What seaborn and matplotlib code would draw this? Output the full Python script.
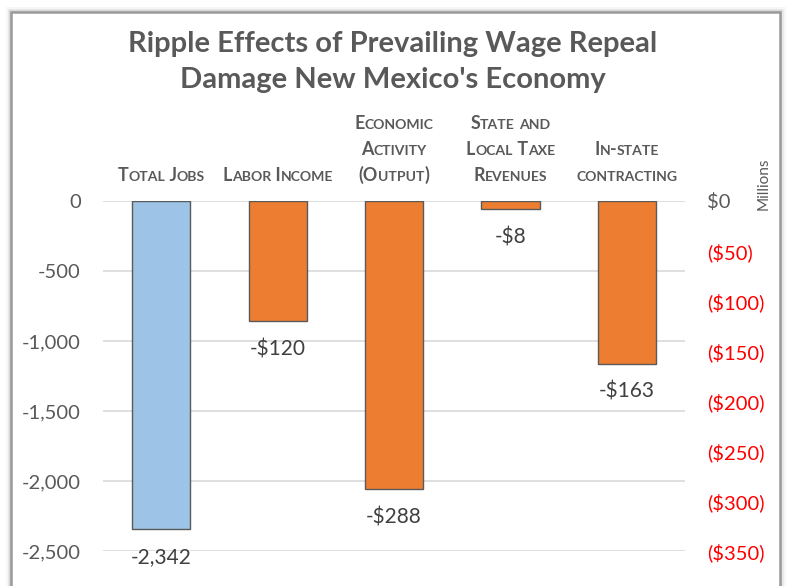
import numpy as np
import pandas as pd
import matplotlib
matplotlib.use("Agg")
import matplotlib.pyplot as plt
import seaborn as sns
from matplotlib.patches import Rectangle

# ---- data ----
categories = ["Total Jobs", "Labor Income", "Economic Activity (Output)",
              "State and Local Taxe Revenues", "In-state contracting"]
header_lines = [["Total Jobs"], ["Labor Income"],
                ["Economic", "Activity", "(Output)"],
                ["State and", "Local Taxe", "Revenues"],
                ["In-state", "contracting"]]
jobs_category = ["Total Jobs"]
jobs_values = [-2342]
dollar_categories = ["Labor Income", "Economic Activity (Output)",
                     "State and Local Taxe Revenues", "In-state contracting"]
dollar_values = [-120, -288, -8, -163]
jobs_ticks = [0, -500, -1000, -1500, -2000, -2500]
dollar_ticks = [0, -50, -100, -150, -200, -250, -300, -350]

title_lines = ["Ripple Effects of Prevailing Wage Repeal",
               "Damage New Mexico's Economy"]

sns.set_theme(style="white")
plt.rcParams["font.family"] = ["Lato", "DejaVu Sans"]

W, H = 788, 586
fig = plt.figure(figsize=(W / 100, H / 100), dpi=100)
fig.patch.set_facecolor("white")

GRAY = "#595959"
DARK = "#404040"

# ---- card frame with soft shadow ----
for off, a in [(8, 0.03), (5, 0.05), (3, 0.08)]:
    fig.patches.append(Rectangle((11 / W, -30 / H), 769 / W, 604 / H,
                                 transform=fig.transFigure, facecolor="none",
                                 edgecolor="black", alpha=a, linewidth=off,
                                 zorder=-10))
fig.patches.append(Rectangle((11 / W, -30 / H), 769 / W, 604 / H,
                             transform=fig.transFigure, facecolor="white",
                             edgecolor="#9a9a9a", linewidth=1.8, zorder=-5))

# ---- axes ----
left, right, top, bottom = 103, 685, 201, 551
ax1 = fig.add_axes([left / W, 1 - bottom / H, (right - left) / W, (bottom - top) / H])
ax1.patch.set_alpha(0)
ax2 = ax1.twinx()
ax2.patch.set_alpha(0)

jobs_df = pd.DataFrame({"category": jobs_category, "value": jobs_values})
dollar_df = pd.DataFrame({"category": dollar_categories, "value": dollar_values})

sns.barplot(data=jobs_df, x="category", y="value", order=categories, ax=ax1,
            color="#9DC3E6", saturation=1, width=0.5, errorbar=None,
            edgecolor="#5a5a5a", linewidth=1.0, zorder=3)
sns.barplot(data=dollar_df, x="category", y="value", order=categories, ax=ax2,
            color="#ED7D31", saturation=1, width=0.5, errorbar=None,
            edgecolor="#5a5a5a", linewidth=1.0, zorder=3)

for ax in (ax1, ax2):
    ax.set_xlim(-0.5, len(categories) - 0.5)
    ax.set_xlabel("")
    ax.set_ylabel("")
    ax.set_xticks([])
    for s in ax.spines.values():
        s.set_visible(False)

ax1.set_ylim(-2500, 0)
ax2.set_ylim(-350, 0)

ax1.set_yticks(jobs_ticks)
ax1.set_yticklabels([f"{v:,}" for v in jobs_ticks])
ax1.tick_params(axis="y", length=0, pad=16, labelsize=14.5, labelcolor=GRAY)
ax1.yaxis.grid(True, color="#d9d9d9", linewidth=1.2)
ax1.set_axisbelow(True)

ax2.set_yticks(dollar_ticks)
ax2.set_yticklabels(["$0" if v == 0 else f"(${abs(v)})" for v in dollar_ticks])
ax2.tick_params(axis="y", length=0, pad=16, labelsize=14.5)
for lab, v in zip(ax2.get_yticklabels(), dollar_ticks):
    lab.set_color(GRAY if v == 0 else "#ff0000")
ax2.grid(False)

# ---- value labels under each bar ----
for cat, v in zip(jobs_category, jobs_values):
    ax1.annotate(f"-{abs(v):,}", xy=(categories.index(cat), v), xytext=(0, -28),
                 textcoords="offset pixels", ha="center", va="center",
                 fontsize=15, color=DARK, annotation_clip=False)
for cat, v in zip(dollar_categories, dollar_values):
    ax2.annotate(f"-${abs(v)}", xy=(categories.index(cat), v), xytext=(0, -28),
                 textcoords="offset pixels", ha="center", va="center",
                 fontsize=15, color=DARK, annotation_clip=False)

fig.text(764 / W, 1 - 184 / H, "Millions", rotation=90, ha="center", va="center",
         fontsize=11, color=GRAY)

# ---- title ----
for i, line in enumerate(title_lines):
    fig.text(393 / W, 1 - (44 + 36 * i) / H, line, ha="center", va="center",
             fontsize=21, fontweight="bold", color=GRAY)

# ---- small-caps category headers ----
renderer = fig.canvas.get_renderer()
BIG, SMALL = 12.9, 10.1


def small_caps(xc, y_base, text):
    runs = []
    for ch in text:
        small = ch.islower()
        c = ch.upper()
        if runs and runs[-1][1] == small:
            runs[-1][0] += c
        else:
            runs.append([c, small])
    arts = []
    for s, small in runs:
        t = fig.text(0, 1 - y_base / H, s, ha="left", va="baseline",
                     fontsize=SMALL if small else BIG, fontweight="bold",
                     color=GRAY)
        arts.append(t)
    widths = [a.get_window_extent(renderer).width for a in arts]
    x = xc - sum(widths) / 2
    for a, w in zip(arts, widths):
        a.set_x(x / W)
        x += w


step = (right - left) / len(categories)
for i, lines in enumerate(header_lines):
    xc = left + step * (i + 0.5)
    n = len(lines)
    for k, line in enumerate(lines):
        small_caps(xc, 181 - 26 * (n - 1 - k), line)

fig.savefig("out.png", dpi=100)
